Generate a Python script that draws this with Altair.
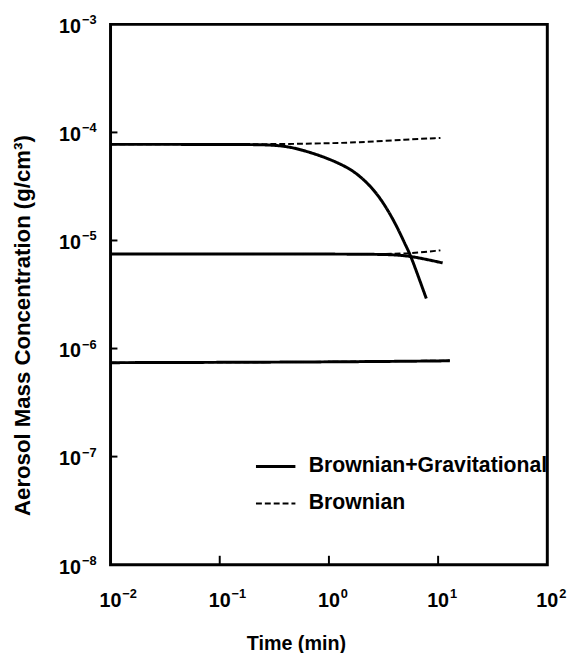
import altair as alt
import pandas as pd

# ---- data ----
# Top case: Brownian + Gravitational (solid)
t_bg_hi = [0.01, 0.1, 0.25, 0.405, 0.614, 0.929, 1.315, 1.745, 2.29, 2.82, 3.47, 4.27, 5.08, 5.56, 6.95, 7.8]
c_bg_hi = [7.75e-5, 7.75e-5, 7.72e-5, 7.5e-5, 6.74e-5, 5.86e-5, 5.04e-5, 4.28e-5, 3.35e-5, 2.62e-5,
           1.91e-5, 1.30e-5, 8.85e-6, 7.43e-6, 4.0e-6, 2.9e-6]
# Top case: Brownian only (dashed)
t_b_hi = [0.01, 0.34, 1.0, 1.74, 5.2, 10.5]
c_b_hi = [7.75e-5, 7.75e-5, 7.95e-5, 8.05e-5, 8.6e-5, 8.9e-5]
# Middle case
t_bg_mid = [0.01, 1.0, 2.6, 3.7, 5.6, 11.0]
c_bg_mid = [7.5e-6, 7.5e-6, 7.45e-6, 7.4e-6, 7.2e-6, 6.2e-6]
t_b_mid = [0.01, 1.0, 3.7, 5.6, 10.5]
c_b_mid = [7.5e-6, 7.5e-6, 7.5e-6, 7.6e-6, 8.1e-6]
# Lower case
t_bg_lo = [0.01, 1.0, 12.8]
c_bg_lo = [7.4e-7, 7.5e-7, 7.7e-7]
t_b_lo = [0.01, 1.0, 12.8]
c_b_lo = [7.4e-7, 7.5e-7, 7.75e-7]

# tick labels: base "10" with these exponents
x_ticks = [0.01, 0.1, 1, 10, 100]
x_exp = ["\u22122", "\u22121", "0", "1", "2"]
y_ticks = [1e-8, 1e-7, 1e-6, 1e-5, 1e-4, 1e-3]
y_exp = ["\u22128", "\u22127", "\u22126", "\u22125", "\u22124", "\u22123"]
x_inner_ticks = [0.1, 1, 10]
y_inner_ticks = [1e-7, 1e-6, 1e-5, 1e-4]

BG = "Brownian+Gravitational"
B = "Brownian"

rows = []
for name, model, ts, cs in [
    ("hi_bg", BG, t_bg_hi, c_bg_hi), ("hi_b", B, t_b_hi, c_b_hi),
    ("mid_bg", BG, t_bg_mid, c_bg_mid), ("mid_b", B, t_b_mid, c_b_mid),
    ("lo_bg", BG, t_bg_lo, c_bg_lo), ("lo_b", B, t_b_lo, c_b_lo),
]:
    for t, c in zip(ts, cs):
        rows.append({"t": t, "c": c, "model": model, "series": name})
df = pd.DataFrame(rows)

W, H = 443, 548
FONT = "Liberation Sans"

xscale = alt.Scale(type="log", domain=[0.01, 100])
yscale = alt.Scale(type="log", domain=[1e-8, 1e-3])

xaxis = alt.Axis(
    title="Time (min)", values=x_ticks, labels=False,
    ticks=False, grid=False, domain=False,
    titleFontSize=20, titleFont=FONT, titleFontWeight="bold", titleColor="black",
    titleX=188, titleY=80, titleBaseline="middle", titleAlign="center")
yaxis = alt.Axis(
    title="Aerosol Mass Concentration (g/cm\u00b3)", values=y_ticks, labels=False,
    ticks=False, grid=False, domain=False,
    titleFontSize=22.5, titleFont=FONT, titleFontWeight="bold", titleColor="black",
    titleX=-89, titleY=305, titleAngle=270, titleBaseline="middle", titleAlign="center")

leg = alt.Legend(title=None, orient="none", legendX=146, legendY=427,
                 symbolType="stroke", symbolSize=1600, labelLimit=0,
                 labelFontSize=21.5, labelFont=FONT, labelFontWeight="bold",
                 labelColor="black", rowPadding=6, labelOffset=12,
                 symbolStrokeColor="black")

lines = alt.Chart(df).mark_line(color="black", interpolate="basis").encode(
    x=alt.X("t:Q", scale=xscale, axis=xaxis),
    y=alt.Y("c:Q", scale=yscale, axis=yaxis),
    strokeDash=alt.StrokeDash("model:N", scale=alt.Scale(domain=[BG, B], range=[[1, 0], [6, 3]]),
                              legend=leg),
    strokeWidth=alt.StrokeWidth("model:N", scale=alt.Scale(domain=[BG, B], range=[3, 2]),
                                legend=leg),
    detail="series:N",
)

ytick_df = pd.DataFrame({"c": y_inner_ticks})
yticks = alt.Chart(ytick_df).mark_rule(color="black", strokeWidth=2).encode(
    y=alt.Y("c:Q", scale=yscale, axis=yaxis),
    x=alt.value(0), x2=alt.value(7),
)
xtick_df = pd.DataFrame({"t": x_inner_ticks})
xticks = alt.Chart(xtick_df).mark_rule(color="black", strokeWidth=2).encode(
    x=alt.X("t:Q", scale=xscale, axis=xaxis),
    y=alt.value(H), y2=alt.value(H - 9),
)

# custom tick labels: "10" plus raised exponent
ylab_df = pd.DataFrame({"c": y_ticks, "e": y_exp})
ybase = alt.Chart(ylab_df).mark_text(
    text="10", align="right", baseline="middle", font=FONT, fontWeight="bold",
    fontSize=20, color="black", dy=3).encode(
    y=alt.Y("c:Q", scale=yscale, axis=yaxis), x=alt.value(-30))
yexp = alt.Chart(ylab_df).mark_text(
    align="left", baseline="middle", font=FONT, fontWeight="bold",
    fontSize=13, color="black", dy=-4).encode(
    y=alt.Y("c:Q", scale=yscale, axis=yaxis), x=alt.value(-29), text="e:N")

xlab_df = pd.DataFrame({"t": x_ticks, "e": x_exp})
xbase = alt.Chart(xlab_df).mark_text(
    text="10", align="center", baseline="middle", font=FONT, fontWeight="bold",
    fontSize=20, color="black").encode(
    x=alt.X("t:Q", scale=xscale, axis=xaxis), y=alt.value(H + 37))
xexp = alt.Chart(xlab_df).mark_text(
    align="left", baseline="middle", font=FONT, fontWeight="bold",
    fontSize=13, color="black", dx=12).encode(
    x=alt.X("t:Q", scale=xscale, axis=xaxis), y=alt.value(H + 30), text="e:N")

chart = alt.layer(lines, yticks, xticks, ybase, yexp, xbase, xexp).properties(
    width=W, height=H,
    background="white",
    autosize=alt.AutoSizeParams(type="none"),
    padding={"left": 104, "top": 12, "right": 22, "bottom": 85},
).configure_view(stroke="black", strokeWidth=3)

chart.save("out.html", embed_options={"renderer": "svg", "actions": False})
